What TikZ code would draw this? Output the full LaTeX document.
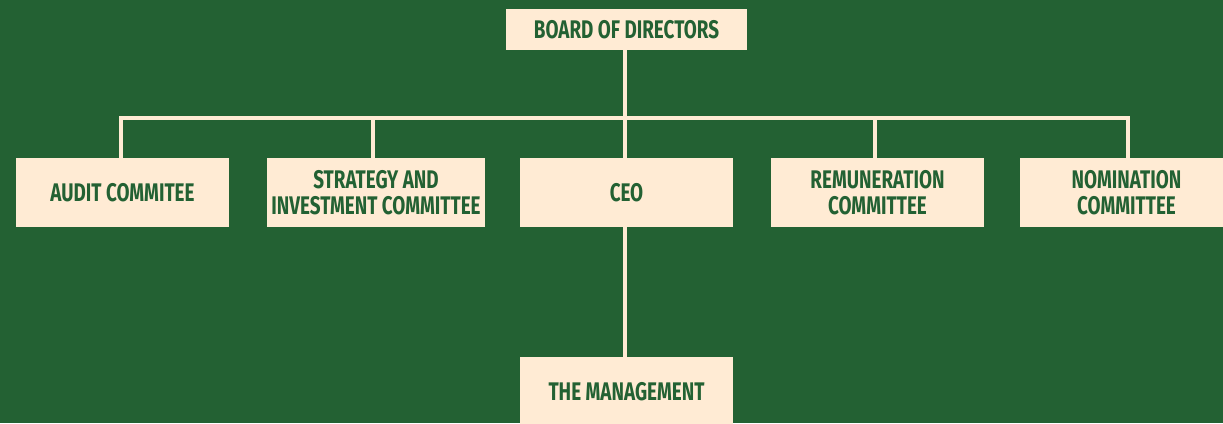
\documentclass[tikz,border=0pt]{standalone}
\usepackage{fontspec}
\setmainfont{Fira Sans}[FakeStretch=0.74]
\usetikzlibrary{positioning}
\definecolor{boardGreen}{HTML}{236133}
\definecolor{cream}{HTML}{FFEBD4}
\tikzset{
  unit/.style = {
    fill=cream,
    text=boardGreen,
    align=center,
    font=\bfseries\fontsize{14.5}{15}\selectfont,
    inner sep=0pt,
    minimum width=4.26cm,
    minimum height=1.38cm,
  },
  link/.style = {
    draw=cream,
    line width=0.08cm,
  },
}

\begin{document}
\begin{tikzpicture}[x=0.02cm, y=-0.02cm]

\fill[boardGreen] (0,0) rectangle (1223,423);
\useasboundingbox (0,0) rectangle (1223,423);
\clip (0,0) rectangle (1223,423);

\node(Board)[unit, minimum width=4.82cm, minimum height=0.82cm] at (626.5,29.5) {BOARD OF DIRECTORS};
\coordinate(Bus) at (625,118);

\node(Audit)[unit] at (122.5,192.5) {AUDIT COMMITEE};
\node(Strategy)[unit, minimum width=4.36cm] at (376,192.5) {STRATEGY AND\\INVESTMENT COMMITTEE};
\node(CEO)[unit] at (626.5,192.5) {CEO};
\node(Remuneration)[unit] at (877.5,192.5) {REMUNERATION\\COMMITTEE};
\node(Nomination)[unit] at (1126.5,192.5) {NOMINATION\\COMMITTEE};

\node(Management)[unit] at (626.5,391.5) {THE MANAGEMENT};

\draw[link] (Board.south -| Bus) -- (CEO.north -| Bus);
\draw[link] (Audit.north -| 121,0) |- (Bus) -| (Nomination.north -| 1128,0);
\draw[link] (Strategy.north -| 373,0) -- (Bus -| 373,0);
\draw[link] (Remuneration.north -| 875,0) -- (Bus -| 875,0);
\draw[link] (CEO.south -| Bus) -- (Management.north -| Bus);

\end{tikzpicture}
\end{document}
